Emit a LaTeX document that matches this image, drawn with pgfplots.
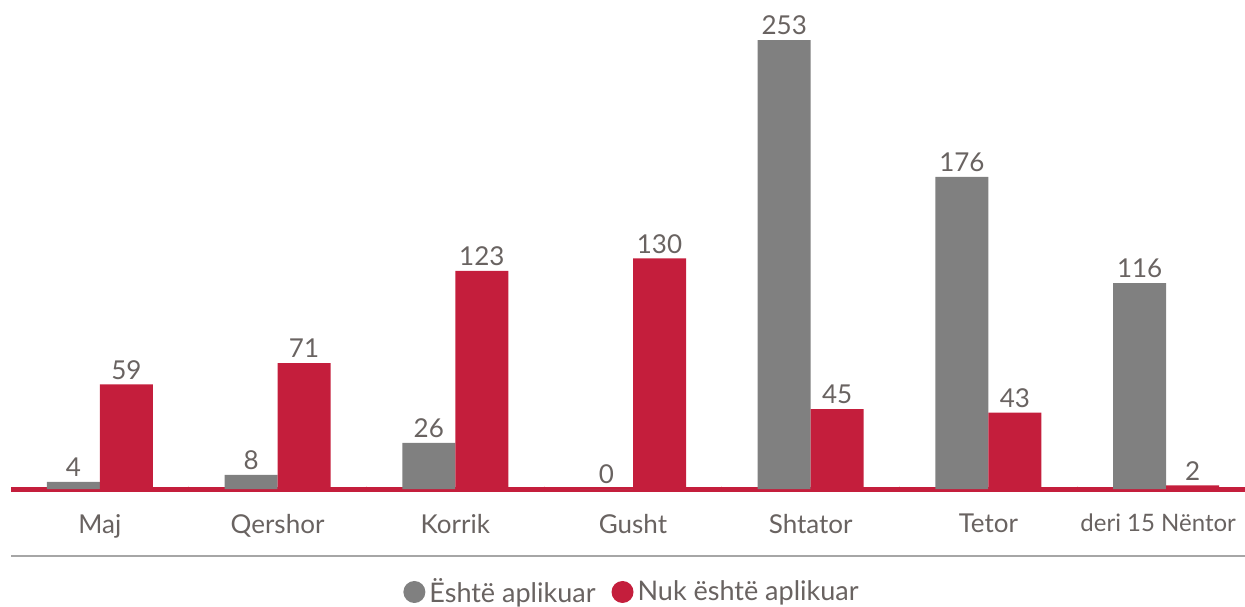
\documentclass[border=0pt]{standalone}
\usepackage{pgfplots}
\pgfplotsset{compat=1.18}
\usepackage{fontspec}
\setmainfont{Lato}
\definecolor{greybar}{RGB}{128,128,128}
\definecolor{redbar}{RGB}{196,30,60}
\definecolor{txt}{RGB}{105,99,97}
\begin{document}
\begin{tikzpicture}
\useasboundingbox (-5.5pt,-58.5pt) rectangle (617pt,244.5pt);
\begin{axis}[
  scale only axis,
  width=622pt, height=239.5pt,
  clip=false,
  /pgf/number format/assume math mode=true,
  ybar=0pt, bar width=26.5pt,
  xmin=-0.5, xmax=6.5, ymin=0, ymax=270,
  axis x line=bottom, axis y line=none,
  x axis line style={-, draw=redbar, line width=2.5pt},
  xtick={0,1,2,3,4,5},
  xticklabels={Maj,Qershor,Korrik,Gusht,Shtator,Tetor},
  extra x ticks={6},
  extra x tick labels={deri 15 Nëntor},
  extra x tick style={xticklabel style={font=\fontsize{12}{14}\selectfont, xshift=-4pt}},
  major tick length=0pt,
  minor xtick={0.5,1.5,2.5,3.5,4.5,5.5},
  minor tick length=3pt, tick align=center,
  minor tick style={draw=red!15!white, line width=0.6pt},
  xticklabel style={font=\fontsize{13}{15}\selectfont, text=txt, yshift=-9pt},
  nodes near coords,
  every node near coord/.append style={font=\fontsize{13}{15}\selectfont, text=txt, yshift=-1pt},
  legend style={at={(0.5,-0.215)}, anchor=center, draw=none, legend columns=2,
    font=\fontsize{13.5}{15}\selectfont, text=txt,
    /tikz/every even column/.append style={column sep=6pt}},
]
\addplot[fill=greybar, draw=none,
  legend image code/.code={\fill[greybar] (5pt,0pt) circle (5.5pt);}]
  coordinates {(0,4) (1,8) (2,26) (3,0) (4,253) (5,176) (6,116)};
\addlegendentry{Është aplikuar}
\addplot[fill=redbar, draw=none,
  legend image code/.code={\fill[redbar] (5pt,0pt) circle (5.5pt);}]
  coordinates {(0,59) (1,71) (2,123) (3,130) (4,45) (5,43) (6,2)};
\addlegendentry{Nuk është aplikuar}
\draw[gray!70, line width=0.6pt] ([yshift=-33.5pt]rel axis cs:0,0) -- ([yshift=-33.5pt]rel axis cs:1,0);
\end{axis}
\end{tikzpicture}
\end{document}
